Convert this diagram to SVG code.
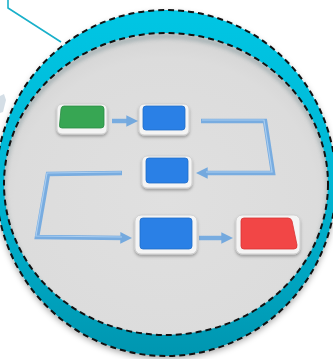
<svg xmlns="http://www.w3.org/2000/svg" width="333" height="359" viewBox="0 0 333 359">
  <defs>
    <linearGradient id="ringGrad" x1="0" y1="0" x2="0" y2="1">
      <stop offset="0" stop-color="#00c6e4"/>
      <stop offset="0.5" stop-color="#00b6d4"/>
      <stop offset="1" stop-color="#0096b0"/>
    </linearGradient>
    <radialGradient id="diskGrad" cx="0.5" cy="0.55" r="0.55">
      <stop offset="0" stop-color="#e0e0e0"/>
      <stop offset="0.85" stop-color="#dcdcdc"/>
      <stop offset="1" stop-color="#d4d4d4"/>
    </radialGradient>
    <filter id="ringShadow" x="-10%" y="-10%" width="120%" height="125%">
      <feDropShadow dx="0" dy="3" stdDeviation="3" flood-color="#000" flood-opacity="0.35"/>
    </filter>
    <filter id="plateShadow" x="-20%" y="-20%" width="140%" height="160%">
      <feDropShadow dx="0" dy="2" stdDeviation="1.5" flood-color="#000" flood-opacity="0.3"/>
    </filter>
    <filter id="blur2"><feGaussianBlur stdDeviation="2"/></filter>
    <clipPath id="diskClip"><ellipse cx="166" cy="184" rx="162" ry="151"/></clipPath>
    <marker id="arrowHead" viewBox="0 0 10 10" refX="4" refY="5" markerWidth="2.6" markerHeight="2.6" orient="auto" markerUnits="strokeWidth">
      <path d="M0,0 L10,5 L0,10 z" fill="#74a9de"/>
    </marker>
    <style>
      .dash { fill: none; stroke: #111; stroke-width: 2; stroke-dasharray: 6 4; }
      .plate { fill: #f4f4f4; stroke: #cfcfcf; stroke-width: 1; }
      .conn { fill: none; stroke: #78ace0; stroke-width: 4.5; stroke-linejoin: miter; }
      .connHi { fill: none; stroke: #a9cdf0; stroke-width: 1.2; }
      .blue { fill: #2a80e6; stroke: #1f6cc8; stroke-width: 0.8; }
      .green { fill: #37a653; stroke: #2a8a42; stroke-width: 0.8; }
      .red { fill: #f24646; stroke: #d83434; stroke-width: 0.8; }
    </style>
  </defs>

  <!-- pointer line -->
  <polyline points="8,0 8,8 61,42" fill="none" stroke="#19b0ca" stroke-width="1.6"/>

  <!-- clipped fragment on left edge -->
  <path d="M0,96 L4,94 L6,100 L3,112 L0,113 z" fill="#c9d6e0" opacity="0.8"/>

  <!-- outer ring -->
  <g id="ring">
    <ellipse cx="166" cy="183" rx="170" ry="173" fill="url(#ringGrad)" filter="url(#ringShadow)"/>
    <ellipse cx="166" cy="183" rx="170" ry="173" class="dash"/>
  </g>

  <!-- inner disk -->
  <g id="disk">
    <ellipse cx="166" cy="184" rx="162" ry="151" fill="url(#diskGrad)"/>
    <g clip-path="url(#diskClip)">
      <ellipse cx="166" cy="188" rx="163" ry="152" fill="none" stroke="#6f8a8f" stroke-width="4" filter="url(#blur2)" opacity="0.55"/>
    </g>
    <ellipse cx="166" cy="184" rx="162" ry="151" class="dash"/>
  </g>

  <!-- connectors -->
  <g id="connectors">
    <polyline class="conn" points="112,121 131,121" marker-end="url(#arrowHead)"/>
    <polyline class="conn" points="201,121 265,121 273,173 203,173" marker-end="url(#arrowHead)"/>
    <polyline class="conn" points="122,173 48,174 37,237 125,238" marker-end="url(#arrowHead)"/>
    <polyline class="conn" points="199,238 226,238" marker-end="url(#arrowHead)"/>
    <polyline class="connHi" points="202,120 264,120 272,172 206,172"/>
    <polyline class="connHi" points="121,172 47,173 36,236 122,237"/>
  </g>

  <!-- nodes -->
  <g id="node-green">
    <rect class="plate" x="57" y="104" width="50" height="30" rx="5" filter="url(#plateShadow)"/>
    <path class="green" d="M64,106 L101,106 Q104,106 104,109 L104,125 Q104,128 101,128 L62,128 Q59,128 59.5,125 L61,109 Q61.5,106 64,106 z"/>
  </g>
  <g id="node-blue1">
    <rect class="plate" x="139" y="104" width="50" height="31" rx="5" filter="url(#plateShadow)"/>
    <path class="blue" d="M146,106 L182,106 Q185,106 185,109 L185,127 Q185,130 182,130 L146,130 Q143,130 143,127 L143,109 Q143,106 146,106 z"/>
  </g>
  <g id="node-blue2">
    <rect class="plate" x="142" y="156" width="50" height="32" rx="5" filter="url(#plateShadow)"/>
    <path class="blue" d="M149,158 L185,158 Q188,158 188,161 L188,180 Q188,183 185,183 L149,183 Q146,183 146,180 L146,161 Q146,158 149,158 z"/>
  </g>
  <g id="node-blue3">
    <rect class="plate" x="135" y="215" width="62" height="39" rx="6" filter="url(#plateShadow)"/>
    <path class="blue" d="M143,218 L189,218 Q192,218 192,221 L192,246 Q192,249 189,249 L143,249 Q140,249 140,246 L140,221 Q140,218 143,218 z"/>
  </g>
  <g id="node-red">
    <rect class="plate" x="236" y="215" width="64" height="39" rx="6" filter="url(#plateShadow)"/>
    <path class="red" d="M244,218 L288,218 Q291,218 292,221 L297,245 Q297.5,249 294,249 L244,249 Q241,249 241,246 L241,221 Q241,218 244,218 z"/>
  </g>
</svg>
